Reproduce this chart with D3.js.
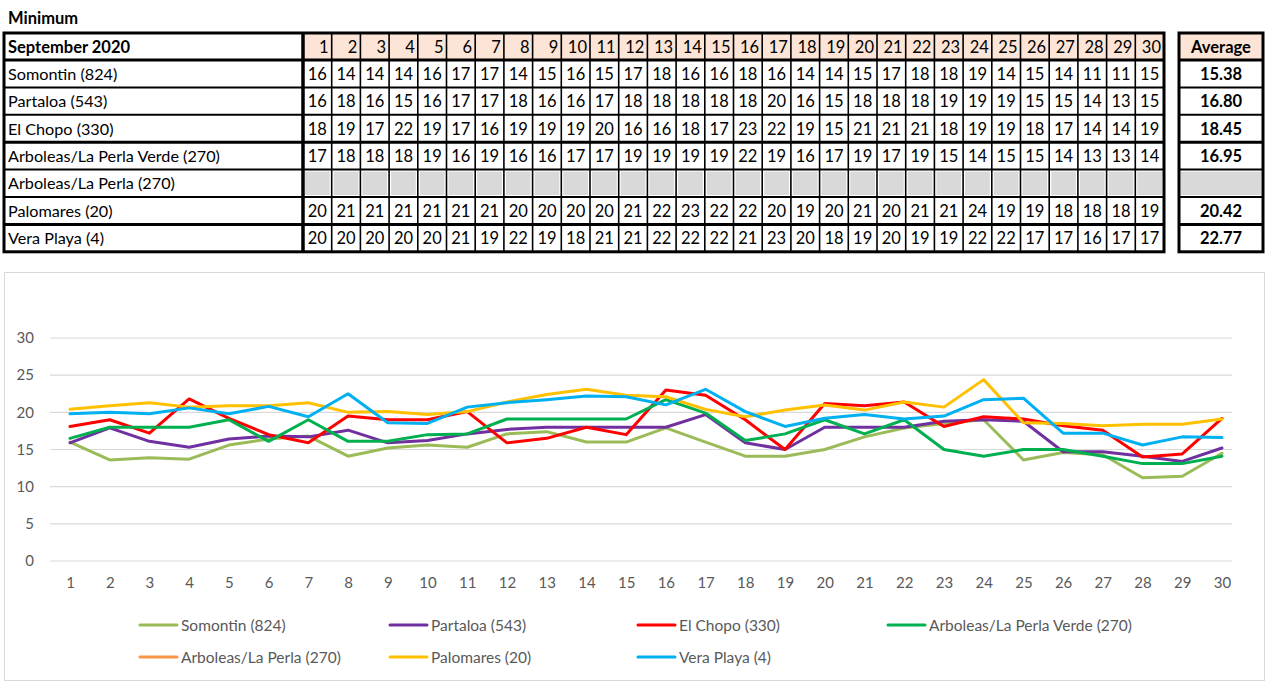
<!DOCTYPE html>
<html>
<head>
<meta charset="utf-8">
<script src="https://cdn.jsdelivr.net/npm/d3@7"></script>
<style>
  html, body { margin: 0; padding: 0; background: #fff; }
  svg { display: block; }
</style>
</head>
<body>
<div id="chart"></div>
<script>
// ---------------- DATA ----------------
const title = "Minimum";
const monthLabel = "September 2020";
const averageLabel = "Average";
const days = [1,2,3,4,5,6,7,8,9,10,11,12,13,14,15,16,17,18,19,20,21,22,23,24,25,26,27,28,29,30];
const stations = ["Somontin (824)", "Partaloa (543)", "El Chopo (330)", "Arboleas/La Perla Verde (270)", "Arboleas/La Perla (270)", "Palomares (20)", "Vera Playa (4)"];
const colors = ["#9BBB59", "#7030A0", "#FF0000", "#00B050", "#F79646", "#FFC000", "#00B0F0"];

// Table (rounded integers as printed)
const tableSomontin  = [16,14,14,14,16,17,17,14,15,16,15,17,18,16,16,18,16,14,14,15,17,18,18,19,14,15,14,11,11,15];
const tablePartaloa  = [16,18,16,15,16,17,17,18,16,16,17,18,18,18,18,18,20,16,15,18,18,18,19,19,19,15,15,14,13,15];
const tableElChopo   = [18,19,17,22,19,17,16,19,19,19,20,16,16,18,17,23,22,19,15,21,21,21,18,19,19,18,17,14,14,19];
const tableVerde     = [17,18,18,18,19,16,19,16,16,17,17,19,19,19,19,22,19,16,17,19,17,19,15,14,15,15,14,13,13,14];
const tableLaPerla   = [];
const tablePalomares = [20,21,21,21,21,21,21,20,20,20,20,21,22,23,22,22,20,19,20,21,20,21,21,24,19,19,18,18,18,19];
const tableVeraPlaya = [20,20,20,20,20,21,19,22,19,18,21,21,22,22,22,21,23,20,18,19,20,19,19,22,22,17,17,16,17,17];
const averages = ["15.38", "16.80", "18.45", "16.95", "", "20.42", "22.77"];

// Chart series (unrounded values)
const lineSomontin  = [16.0,13.6,13.9,13.7,15.6,16.4,16.8,14.1,15.2,15.6,15.3,17.1,17.4,16.0,16.0,17.9,16.0,14.1,14.1,15.0,16.7,17.9,18.5,19.0,13.6,14.6,14.3,11.2,11.4,14.5];
const linePartaloa  = [15.9,17.9,16.1,15.3,16.4,16.8,16.7,17.6,15.9,16.2,17.1,17.7,18.0,18.0,18.0,18.0,19.7,15.9,15.0,18.0,18.0,18.0,18.8,19.0,18.8,14.7,14.7,14.1,13.4,15.2];
const lineElChopo   = [18.1,19.0,17.2,21.8,19.2,17.0,15.9,19.5,19.0,19.0,20.1,15.9,16.5,18.0,17.0,23.0,22.3,19.0,15.0,21.2,20.9,21.4,18.1,19.4,19.1,18.2,17.6,14.0,14.4,19.2];
const lineVerde     = [16.5,18.0,18.0,18.0,19.0,16.1,19.0,16.1,16.1,17.0,17.1,19.1,19.1,19.1,19.1,21.7,19.9,16.2,17.1,19.0,17.1,19.0,15.0,14.1,15.0,15.0,14.1,13.1,13.1,14.1];
const lineLaPerla   = [];
const linePalomares = [20.4,20.9,21.3,20.7,20.9,20.9,21.3,20.0,20.1,19.7,20.1,21.4,22.4,23.1,22.3,22.1,20.4,19.4,20.3,21.0,20.3,21.4,20.7,24.4,18.6,18.5,18.2,18.4,18.4,19.1];
const lineVeraPlaya = [19.8,20.0,19.8,20.6,19.8,20.8,19.4,22.5,18.6,18.5,20.7,21.3,21.7,22.2,22.1,21.0,23.1,20.1,18.1,19.2,19.7,19.1,19.5,21.7,21.9,17.2,17.2,15.6,16.7,16.6];

const yTicks = [0,5,10,15,20,25,30];

const tableRows = [tableSomontin, tablePartaloa, tableElChopo, tableVerde, tableLaPerla, tablePalomares, tableVeraPlaya];
const lineRows  = [lineSomontin, linePartaloa, lineElChopo, lineVerde, lineLaPerla, linePalomares, lineVeraPlaya];

// ---------------- DRAW ----------------
const W = 1280, H = 700;
const FONT = "Lato, 'Open Sans', sans-serif";
const TFS = 16.2;
const svg = d3.select("#chart").append("svg").attr("width", W).attr("height", H);

// Title
svg.append("text").attr("x", 8).attr("y", 24)
  .attr("font-family", FONT).attr("font-weight", "bold").attr("font-size", 16.5)
  .attr("fill", "#000").text(title);

// Table geometry
const tTop = 33, headH = 27, rowH = 27.4;
const nameX0 = 4, nameX1 = 303, tRight = 1164;
const avgX0 = 1179, avgX1 = 1263;
const colX = d3.scaleBand().domain(days).range([nameX1, tRight]);
const rowY = d3.scaleBand().domain(stations).range([tTop + headH, tTop + headH + rowH * stations.length]);
const tBottom = rowY.range()[1];

const tbl = svg.append("g");

// header fills
tbl.selectAll("rect.hd").data(days).join("rect")
  .attr("x", d => colX(d)).attr("y", tTop)
  .attr("width", colX.bandwidth()).attr("height", headH)
  .attr("fill", "#FCE4D6");
tbl.append("rect").attr("x", avgX0).attr("y", tTop).attr("width", avgX1 - avgX0).attr("height", headH).attr("fill", "#FCE4D6");

// empty (gray) cells
stations.forEach((s, i) => {
  if (tableRows[i].length === 0) {
    tbl.selectAll(null).data(days).join("rect")
      .attr("x", d => colX(d) + 2).attr("y", rowY(s) + 2)
      .attr("width", colX.bandwidth() - 4).attr("height", rowH - 4)
      .attr("fill", "#D9D9D9");
    tbl.append("rect").attr("x", avgX0 + 2).attr("y", rowY(s) + 2)
      .attr("width", avgX1 - avgX0 - 4).attr("height", rowH - 4).attr("fill", "#D9D9D9");
  }
});

// grid lines - columns
tbl.selectAll("line.vc").data(days.slice(1)).join("line")
  .attr("x1", d => colX(d)).attr("x2", d => colX(d))
  .attr("y1", tTop).attr("y2", tBottom)
  .attr("stroke", "#000").attr("stroke-width", 1.6);
// row lines
const rowLines = stations.map(s => rowY(s));
tbl.selectAll("line.hr").data(rowLines).join("line")
  .attr("x1", nameX0).attr("x2", tRight)
  .attr("y1", d => d).attr("y2", d => d)
  .attr("stroke", "#000").attr("stroke-width", (d, i) => (i === 0 || i === 3 || i === 6) ? 3 : 2);
tbl.selectAll("line.ar").data(rowLines).join("line")
  .attr("x1", avgX0).attr("x2", avgX1)
  .attr("y1", d => d).attr("y2", d => d)
  .attr("stroke", "#000").attr("stroke-width", (d, i) => (i === 0 || i === 3 || i === 6) ? 3 : 2);
// name column separator
tbl.append("line").attr("x1", nameX1).attr("x2", nameX1).attr("y1", tTop).attr("y2", tBottom)
  .attr("stroke", "#000").attr("stroke-width", 3.5);
// outer borders
tbl.append("rect").attr("x", nameX0).attr("y", tTop).attr("width", tRight - nameX0).attr("height", tBottom - tTop)
  .attr("fill", "none").attr("stroke", "#000").attr("stroke-width", 3);
tbl.append("rect").attr("x", avgX0).attr("y", tTop).attr("width", avgX1 - avgX0).attr("height", tBottom - tTop)
  .attr("fill", "none").attr("stroke", "#000").attr("stroke-width", 3);

// header texts
tbl.append("text").attr("x", 8).attr("y", tTop + headH / 2 + 6)
  .attr("font-family", FONT).attr("font-weight", "bold").attr("font-size", 16.5).text(monthLabel);
tbl.selectAll("text.day").data(days).join("text")
  .attr("x", d => colX(d) + colX.bandwidth() - 3).attr("y", tTop + headH / 2 + 6)
  .attr("text-anchor", "end").attr("font-family", FONT).attr("font-size", TFS + 0.3).text(d => d);
tbl.append("text").attr("x", (avgX0 + avgX1) / 2).attr("y", tTop + headH / 2 + 6)
  .attr("text-anchor", "middle").attr("font-family", FONT).attr("font-weight", "bold").attr("font-size", 16.5).text(averageLabel);

// rows
stations.forEach((s, i) => {
  const cy = rowY(s) + rowH / 2 + 6;
  tbl.append("text").attr("x", 8).attr("y", cy)
    .attr("font-family", FONT).attr("font-size", TFS).text(s);
  tbl.selectAll(null).data(tableRows[i]).join("text")
    .attr("x", (d, j) => colX(days[j]) + colX.bandwidth() / 2).attr("y", cy)
    .attr("text-anchor", "middle").attr("font-family", FONT).attr("font-size", TFS + 0.3).text(d => d);
  tbl.append("text").attr("x", (avgX0 + avgX1) / 2).attr("y", cy)
    .attr("text-anchor", "middle").attr("font-family", FONT).attr("font-weight", "bold").attr("font-size", 16.5).text(averages[i]);
});

// ---------------- CHART ----------------
const chart = svg.append("g");
chart.append("rect").attr("x", 4.5).attr("y", 272.5).attr("width", 1260).attr("height", 408)
  .attr("fill", "#fff").attr("stroke", "#D9D9D9").attr("stroke-width", 1);

const x = d3.scalePoint().domain(days).range([70, 1222]);
const y = d3.scaleLinear().domain([0, 30]).range([561, 338]);
const gridX0 = 50, gridX1 = 1232;

// gridlines
chart.selectAll("line.grid").data(yTicks).join("line")
  .attr("x1", gridX0).attr("x2", gridX1)
  .attr("y1", d => y(d)).attr("y2", d => y(d))
  .attr("stroke", "#D9D9D9").attr("stroke-width", 1.2);

// y axis labels
const yAxis = d3.axisLeft(y).tickValues(yTicks).tickSize(0).tickPadding(0);
const gy = chart.append("g").attr("transform", "translate(34,0)").call(yAxis);
gy.select(".domain").remove();
gy.selectAll("text").attr("font-family", FONT).attr("font-size", 15).attr("fill", "#595959");

// x axis labels
const xAxis = d3.axisBottom(x).tickSize(0).tickPadding(0);
const gx = chart.append("g").attr("transform", "translate(0,577)").call(xAxis);
gx.select(".domain").remove();
gx.selectAll("text").attr("font-family", FONT).attr("font-size", 15).attr("fill", "#595959");

// lines
const line = d3.line().x((d, i) => x(days[i])).y(d => y(d));
stations.forEach((s, i) => {
  if (lineRows[i].length === 0) return;
  chart.append("path").datum(lineRows[i])
    .attr("d", line).attr("fill", "none")
    .attr("stroke", colors[i]).attr("stroke-width", 3)
    .attr("stroke-linejoin", "round").attr("stroke-linecap", "round");
});

// legend
const legCols = [140, 390, 638, 888];
const legRows = [625, 657];
stations.forEach((s, i) => {
  const lx = legCols[i % 4], ly = legRows[Math.floor(i / 4)];
  const g = chart.append("g").attr("transform", `translate(${lx},${ly})`);
  g.append("line").attr("x1", 0).attr("x2", 37).attr("y1", 0).attr("y2", 0)
    .attr("stroke", colors[i]).attr("stroke-width", 3).attr("stroke-linecap", "round");
  g.append("text").attr("x", 41).attr("y", 5.5)
    .attr("font-family", FONT).attr("font-size", 15.5).attr("fill", "#595959").text(s);
});
</script>
</body>
</html>
